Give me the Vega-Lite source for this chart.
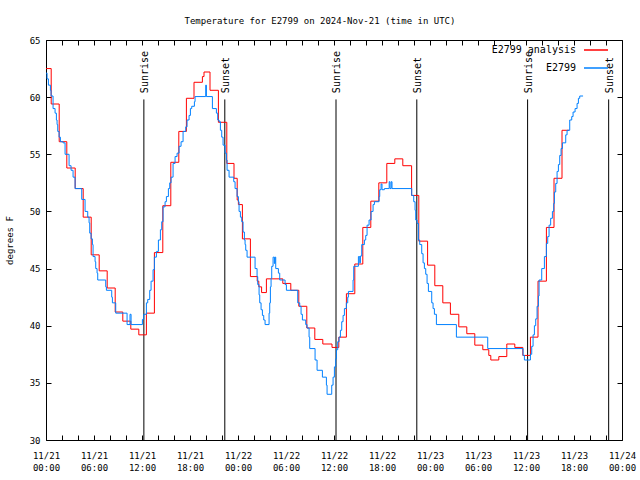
{
  "$schema": "https://vega.github.io/schema/vega-lite/v6.json",
  "width": 576,
  "height": 400,
  "autosize": {"type": "none"},
  "padding": {"left": 46, "top": 40, "right": 18, "bottom": 40},
  "background": "white",
  "title": {"text": "Temperature for E2799 on 2024-Nov-21 (time in UTC)", "font": "DejaVu Sans Mono", "fontSize": 9, "fontWeight": "normal", "color": "black", "offset": 10, "anchor": "middle", "dx": -14},
  "config": {
    "view": {"stroke": "black", "strokeWidth": 1},
    "axis": {"grid": false, "domain": false, "labelFont": "DejaVu Sans Mono", "labelFontSize": 9, "labelColor": "black", "titleFont": "DejaVu Sans Mono", "titleFontSize": 9, "titleFontWeight": "normal", "titleColor": "black", "tickColor": "black", "tickSize": -5, "labelOverlap": false, "labelFlush": false},
    "legend": {"labelFont": "DejaVu Sans Mono", "labelFontSize": 10, "labelColor": "black"}
  },
  "datasets": {
    "ana": [
      {"t": "2024-11-21T00:00:00Z", "v": 62.5}, {"t": "2024-11-21T00:39:00Z", "v": 59.4}, {"t": "2024-11-21T01:39:00Z", "v": 56.1}, {"t": "2024-11-21T02:36:00Z", "v": 53.8}, {"t": "2024-11-21T03:39:00Z", "v": 52.0}, {"t": "2024-11-21T04:39:00Z", "v": 49.5}, {"t": "2024-11-21T05:39:00Z", "v": 46.2}, {"t": "2024-11-21T06:39:00Z", "v": 44.8}, {"t": "2024-11-21T07:39:00Z", "v": 43.3}, {"t": "2024-11-21T08:39:00Z", "v": 41.2}, {"t": "2024-11-21T09:36:00Z", "v": 40.4}, {"t": "2024-11-21T10:36:00Z", "v": 39.7}, {"t": "2024-11-21T11:36:00Z", "v": 39.2}, {"t": "2024-11-21T12:33:00Z", "v": 41.1}, {"t": "2024-11-21T13:33:00Z", "v": 46.4}, {"t": "2024-11-21T14:36:00Z", "v": 50.5}, {"t": "2024-11-21T15:36:00Z", "v": 54.3}, {"t": "2024-11-21T16:36:00Z", "v": 57.0}, {"t": "2024-11-21T17:33:00Z", "v": 59.9}, {"t": "2024-11-21T18:30:00Z", "v": 61.3}, {"t": "2024-11-21T19:33:00Z", "v": 61.8}, {"t": "2024-11-21T19:45:00Z", "v": 62.2}, {"t": "2024-11-21T20:30:00Z", "v": 60.6}, {"t": "2024-11-21T21:33:00Z", "v": 57.8}, {"t": "2024-11-21T22:36:00Z", "v": 54.2}, {"t": "2024-11-21T23:30:00Z", "v": 52.9}, {"t": "2024-11-21T23:54:00Z", "v": 51.0},
      {"t": "2024-11-22T00:03:00Z", "v": 50.6}, {"t": "2024-11-22T00:33:00Z", "v": 47.6}, {"t": "2024-11-22T01:33:00Z", "v": 44.3}, {"t": "2024-11-22T02:24:00Z", "v": 43.9}, {"t": "2024-11-22T02:36:00Z", "v": 43.4}, {"t": "2024-11-22T02:57:00Z", "v": 42.9}, {"t": "2024-11-22T03:33:00Z", "v": 44.1}, {"t": "2024-11-22T05:36:00Z", "v": 43.7}, {"t": "2024-11-22T06:36:00Z", "v": 43.1}, {"t": "2024-11-22T07:36:00Z", "v": 41.7}, {"t": "2024-11-22T08:36:00Z", "v": 39.8}, {"t": "2024-11-22T09:36:00Z", "v": 38.8}, {"t": "2024-11-22T10:36:00Z", "v": 38.4}, {"t": "2024-11-22T11:45:00Z", "v": 38.1}, {"t": "2024-11-22T12:36:00Z", "v": 39.0}, {"t": "2024-11-22T13:33:00Z", "v": 42.8}, {"t": "2024-11-22T14:36:00Z", "v": 45.4}, {"t": "2024-11-22T15:36:00Z", "v": 48.6}, {"t": "2024-11-22T16:36:00Z", "v": 50.9}, {"t": "2024-11-22T17:36:00Z", "v": 52.5}, {"t": "2024-11-22T18:36:00Z", "v": 54.2}, {"t": "2024-11-22T19:36:00Z", "v": 54.6}, {"t": "2024-11-22T20:36:00Z", "v": 54.0}, {"t": "2024-11-22T21:42:00Z", "v": 51.4}, {"t": "2024-11-22T22:36:00Z", "v": 47.4}, {"t": "2024-11-22T23:42:00Z", "v": 45.3},
      {"t": "2024-11-23T00:36:00Z", "v": 43.5}, {"t": "2024-11-23T01:36:00Z", "v": 42.0}, {"t": "2024-11-23T02:33:00Z", "v": 41.0}, {"t": "2024-11-23T03:36:00Z", "v": 39.9}, {"t": "2024-11-23T04:36:00Z", "v": 39.3}, {"t": "2024-11-23T05:36:00Z", "v": 38.3}, {"t": "2024-11-23T06:36:00Z", "v": 37.9}, {"t": "2024-11-23T07:21:00Z", "v": 37.4}, {"t": "2024-11-23T07:36:00Z", "v": 37.0}, {"t": "2024-11-23T08:36:00Z", "v": 37.3}, {"t": "2024-11-23T09:36:00Z", "v": 38.4}, {"t": "2024-11-23T10:36:00Z", "v": 38.1}, {"t": "2024-11-23T11:36:00Z", "v": 37.4}, {"t": "2024-11-23T12:33:00Z", "v": 39.0}, {"t": "2024-11-23T13:30:00Z", "v": 43.9}, {"t": "2024-11-23T14:33:00Z", "v": 48.6}, {"t": "2024-11-23T15:30:00Z", "v": 52.9}, {"t": "2024-11-23T16:30:00Z", "v": 57.1}, {"t": "2024-11-23T17:24:00Z", "v": 57.1}
    ],
    "obs": [
      {"t": "2024-11-21T00:00:00Z", "v": 62.1}, {"t": "2024-11-21T00:08:00Z", "v": 61.6}, {"t": "2024-11-21T00:18:00Z", "v": 61.05}, {"t": "2024-11-21T00:33:00Z", "v": 60.6}, {"t": "2024-11-21T00:38:00Z", "v": 60.1}, {"t": "2024-11-21T00:53:00Z", "v": 59.0}, {"t": "2024-11-21T01:08:00Z", "v": 58.6}, {"t": "2024-11-21T01:18:00Z", "v": 58.0}, {"t": "2024-11-21T01:23:00Z", "v": 57.6}, {"t": "2024-11-21T01:28:00Z", "v": 57.0}, {"t": "2024-11-21T01:38:00Z", "v": 56.5}, {"t": "2024-11-21T01:48:00Z", "v": 56.1}, {"t": "2024-11-21T02:08:00Z", "v": 56.0}, {"t": "2024-11-21T02:23:00Z", "v": 55.0}, {"t": "2024-11-21T02:53:00Z", "v": 54.0}, {"t": "2024-11-21T03:08:00Z", "v": 53.6}, {"t": "2024-11-21T03:23:00Z", "v": 53.0}, {"t": "2024-11-21T03:38:00Z", "v": 52.0}, {"t": "2024-11-21T04:28:00Z", "v": 51.05}, {"t": "2024-11-21T04:53:00Z", "v": 50.0}, {"t": "2024-11-21T05:13:00Z", "v": 49.5}, {"t": "2024-11-21T05:23:00Z", "v": 49.0}, {"t": "2024-11-21T05:28:00Z", "v": 48.1}, {"t": "2024-11-21T05:38:00Z", "v": 47.6}, {"t": "2024-11-21T05:48:00Z", "v": 47.1}, {"t": "2024-11-21T05:53:00Z", "v": 46.05}, {"t": "2024-11-21T06:08:00Z", "v": 45.6}, {"t": "2024-11-21T06:13:00Z", "v": 45.0}, {"t": "2024-11-21T06:23:00Z", "v": 44.6}, {"t": "2024-11-21T06:28:00Z", "v": 44.0}, {"t": "2024-11-21T07:28:00Z", "v": 43.4}, {"t": "2024-11-21T07:33:00Z", "v": 43.1}, {"t": "2024-11-21T08:13:00Z", "v": 42.5}, {"t": "2024-11-21T08:18:00Z", "v": 42.0}, {"t": "2024-11-21T08:43:00Z", "v": 41.1}, {"t": "2024-11-21T10:08:00Z", "v": 40.1}, {"t": "2024-11-21T10:30:00Z", "v": 41.0}, {"t": "2024-11-21T10:38:00Z", "v": 40.1}, {"t": "2024-11-21T12:03:00Z", "v": 40.55}, {"t": "2024-11-21T12:13:00Z", "v": 41.0}, {"t": "2024-11-21T12:33:00Z", "v": 42.0}, {"t": "2024-11-21T12:43:00Z", "v": 42.3}, {"t": "2024-11-21T12:58:00Z", "v": 43.1}, {"t": "2024-11-21T13:08:00Z", "v": 43.9}, {"t": "2024-11-21T13:23:00Z", "v": 44.9}, {"t": "2024-11-21T13:33:00Z", "v": 46.0}, {"t": "2024-11-21T13:48:00Z", "v": 46.5}, {"t": "2024-11-21T14:03:00Z", "v": 47.5}, {"t": "2024-11-21T14:18:00Z", "v": 48.4}, {"t": "2024-11-21T14:28:00Z", "v": 49.1}, {"t": "2024-11-21T14:38:00Z", "v": 50.4}, {"t": "2024-11-21T14:53:00Z", "v": 50.85}, {"t": "2024-11-21T15:03:00Z", "v": 51.3}, {"t": "2024-11-21T15:18:00Z", "v": 52.0}, {"t": "2024-11-21T15:28:00Z", "v": 52.5}, {"t": "2024-11-21T15:38:00Z", "v": 53.0}, {"t": "2024-11-21T15:53:00Z", "v": 54.2}, {"t": "2024-11-21T16:08:00Z", "v": 54.8}, {"t": "2024-11-21T16:23:00Z", "v": 55.1}, {"t": "2024-11-21T16:38:00Z", "v": 55.7}, {"t": "2024-11-21T16:53:00Z", "v": 56.1}, {"t": "2024-11-21T17:08:00Z", "v": 57.0}, {"t": "2024-11-21T17:28:00Z", "v": 57.4}, {"t": "2024-11-21T17:38:00Z", "v": 58.0}, {"t": "2024-11-21T17:53:00Z", "v": 58.4}, {"t": "2024-11-21T18:03:00Z", "v": 59.0}, {"t": "2024-11-21T18:13:00Z", "v": 59.2}, {"t": "2024-11-21T18:33:00Z", "v": 59.6}, {"t": "2024-11-21T18:38:00Z", "v": 60.05}, {"t": "2024-11-21T19:58:00Z", "v": 61.05}, {"t": "2024-11-21T20:03:00Z", "v": 60.05}, {"t": "2024-11-21T20:48:00Z", "v": 59.0}, {"t": "2024-11-21T21:18:00Z", "v": 58.6}, {"t": "2024-11-21T21:28:00Z", "v": 58.0}, {"t": "2024-11-21T21:38:00Z", "v": 57.85}, {"t": "2024-11-21T21:48:00Z", "v": 57.1}, {"t": "2024-11-21T21:58:00Z", "v": 56.5}, {"t": "2024-11-21T22:08:00Z", "v": 55.8}, {"t": "2024-11-21T22:23:00Z", "v": 55.1}, {"t": "2024-11-21T22:33:00Z", "v": 54.5}, {"t": "2024-11-21T22:38:00Z", "v": 53.6}, {"t": "2024-11-21T22:53:00Z", "v": 53.0}, {"t": "2024-11-21T23:28:00Z", "v": 52.6}, {"t": "2024-11-21T23:38:00Z", "v": 52.0}, {"t": "2024-11-21T23:53:00Z", "v": 51.3},
      {"t": "2024-11-22T00:03:00Z", "v": 50.85}, {"t": "2024-11-22T00:08:00Z", "v": 50.0}, {"t": "2024-11-22T00:18:00Z", "v": 49.5}, {"t": "2024-11-22T00:28:00Z", "v": 49.1}, {"t": "2024-11-22T00:38:00Z", "v": 48.2}, {"t": "2024-11-22T00:48:00Z", "v": 47.5}, {"t": "2024-11-22T00:53:00Z", "v": 47.1}, {"t": "2024-11-22T00:58:00Z", "v": 46.6}, {"t": "2024-11-22T01:08:00Z", "v": 46.0}, {"t": "2024-11-22T02:08:00Z", "v": 45.0}, {"t": "2024-11-22T02:23:00Z", "v": 44.3}, {"t": "2024-11-22T02:28:00Z", "v": 43.6}, {"t": "2024-11-22T02:38:00Z", "v": 42.7}, {"t": "2024-11-22T02:43:00Z", "v": 42.0}, {"t": "2024-11-22T02:53:00Z", "v": 41.4}, {"t": "2024-11-22T03:03:00Z", "v": 40.9}, {"t": "2024-11-22T03:13:00Z", "v": 40.5}, {"t": "2024-11-22T03:23:00Z", "v": 40.1}, {"t": "2024-11-22T03:53:00Z", "v": 41.1}, {"t": "2024-11-22T03:58:00Z", "v": 42.0}, {"t": "2024-11-22T04:03:00Z", "v": 43.4}, {"t": "2024-11-22T04:08:00Z", "v": 44.15}, {"t": "2024-11-22T04:13:00Z", "v": 45.2}, {"t": "2024-11-22T04:23:00Z", "v": 46.0}, {"t": "2024-11-22T04:33:00Z", "v": 45.45}, {"t": "2024-11-22T04:38:00Z", "v": 46.0}, {"t": "2024-11-22T04:43:00Z", "v": 45.0}, {"t": "2024-11-22T05:03:00Z", "v": 44.6}, {"t": "2024-11-22T05:13:00Z", "v": 44.0}, {"t": "2024-11-22T05:53:00Z", "v": 43.6}, {"t": "2024-11-22T06:03:00Z", "v": 43.1}, {"t": "2024-11-22T07:28:00Z", "v": 42.0}, {"t": "2024-11-22T07:43:00Z", "v": 41.7}, {"t": "2024-11-22T07:53:00Z", "v": 41.0}, {"t": "2024-11-22T08:03:00Z", "v": 40.5}, {"t": "2024-11-22T08:28:00Z", "v": 40.1}, {"t": "2024-11-22T08:38:00Z", "v": 39.8}, {"t": "2024-11-22T08:53:00Z", "v": 39.0}, {"t": "2024-11-22T08:58:00Z", "v": 38.0}, {"t": "2024-11-22T09:38:00Z", "v": 37.0}, {"t": "2024-11-22T09:53:00Z", "v": 36.1}, {"t": "2024-11-22T10:33:00Z", "v": 35.5}, {"t": "2024-11-22T11:03:00Z", "v": 34.8}, {"t": "2024-11-22T11:08:00Z", "v": 34.0}, {"t": "2024-11-22T11:43:00Z", "v": 34.8}, {"t": "2024-11-22T11:53:00Z", "v": 35.5}, {"t": "2024-11-22T12:03:00Z", "v": 36.4}, {"t": "2024-11-22T12:13:00Z", "v": 37.1}, {"t": "2024-11-22T12:18:00Z", "v": 37.9}, {"t": "2024-11-22T12:28:00Z", "v": 38.6}, {"t": "2024-11-22T12:38:00Z", "v": 39.0}, {"t": "2024-11-22T12:48:00Z", "v": 39.6}, {"t": "2024-11-22T12:58:00Z", "v": 40.35}, {"t": "2024-11-22T13:08:00Z", "v": 40.9}, {"t": "2024-11-22T13:18:00Z", "v": 41.5}, {"t": "2024-11-22T13:33:00Z", "v": 42.0}, {"t": "2024-11-22T13:43:00Z", "v": 42.5}, {"t": "2024-11-22T13:48:00Z", "v": 43.0}, {"t": "2024-11-22T14:23:00Z", "v": 44.0}, {"t": "2024-11-22T14:28:00Z", "v": 45.2}, {"t": "2024-11-22T15:03:00Z", "v": 46.05}, {"t": "2024-11-22T15:13:00Z", "v": 45.5}, {"t": "2024-11-22T15:18:00Z", "v": 46.1}, {"t": "2024-11-22T15:28:00Z", "v": 47.1}, {"t": "2024-11-22T15:48:00Z", "v": 47.5}, {"t": "2024-11-22T15:58:00Z", "v": 47.9}, {"t": "2024-11-22T16:08:00Z", "v": 48.8}, {"t": "2024-11-22T16:23:00Z", "v": 49.25}, {"t": "2024-11-22T16:38:00Z", "v": 50.0}, {"t": "2024-11-22T16:53:00Z", "v": 50.6}, {"t": "2024-11-22T17:03:00Z", "v": 50.85}, {"t": "2024-11-22T17:38:00Z", "v": 51.3}, {"t": "2024-11-22T17:43:00Z", "v": 51.9}, {"t": "2024-11-22T17:53:00Z", "v": 52.4}, {"t": "2024-11-22T18:00:00Z", "v": 51.9}, {"t": "2024-11-22T18:18:00Z", "v": 52.0}, {"t": "2024-11-22T18:54:00Z", "v": 52.6}, {"t": "2024-11-22T19:00:00Z", "v": 52.0}, {"t": "2024-11-22T19:09:00Z", "v": 52.6}, {"t": "2024-11-22T19:15:00Z", "v": 52.0}, {"t": "2024-11-22T21:43:00Z", "v": 51.4}, {"t": "2024-11-22T21:58:00Z", "v": 50.85}, {"t": "2024-11-22T22:08:00Z", "v": 50.1}, {"t": "2024-11-22T22:13:00Z", "v": 49.25}, {"t": "2024-11-22T22:23:00Z", "v": 48.95}, {"t": "2024-11-22T22:33:00Z", "v": 47.5}, {"t": "2024-11-22T22:43:00Z", "v": 47.1}, {"t": "2024-11-22T22:58:00Z", "v": 46.3}, {"t": "2024-11-22T23:08:00Z", "v": 45.5}, {"t": "2024-11-22T23:18:00Z", "v": 45.0}, {"t": "2024-11-22T23:28:00Z", "v": 44.5}, {"t": "2024-11-22T23:38:00Z", "v": 43.7}, {"t": "2024-11-22T23:48:00Z", "v": 43.0},
      {"t": "2024-11-23T00:13:00Z", "v": 42.0}, {"t": "2024-11-23T00:23:00Z", "v": 41.5}, {"t": "2024-11-23T00:33:00Z", "v": 41.0}, {"t": "2024-11-23T00:48:00Z", "v": 40.1}, {"t": "2024-11-23T03:18:00Z", "v": 39.0}, {"t": "2024-11-23T07:13:00Z", "v": 38.0}, {"t": "2024-11-23T11:38:00Z", "v": 37.4}, {"t": "2024-11-23T11:48:00Z", "v": 37.0}, {"t": "2024-11-23T12:33:00Z", "v": 37.5}, {"t": "2024-11-23T12:43:00Z", "v": 38.2}, {"t": "2024-11-23T12:53:00Z", "v": 39.2}, {"t": "2024-11-23T13:03:00Z", "v": 40.0}, {"t": "2024-11-23T13:13:00Z", "v": 40.6}, {"t": "2024-11-23T13:23:00Z", "v": 41.7}, {"t": "2024-11-23T13:33:00Z", "v": 42.6}, {"t": "2024-11-23T13:38:00Z", "v": 44.0}, {"t": "2024-11-23T13:58:00Z", "v": 45.0}, {"t": "2024-11-23T14:18:00Z", "v": 46.05}, {"t": "2024-11-23T14:33:00Z", "v": 47.2}, {"t": "2024-11-23T14:43:00Z", "v": 47.8}, {"t": "2024-11-23T14:53:00Z", "v": 48.8}, {"t": "2024-11-23T15:05:00Z", "v": 49.4}, {"t": "2024-11-23T15:18:00Z", "v": 50.0}, {"t": "2024-11-23T15:28:00Z", "v": 50.7}, {"t": "2024-11-23T15:33:00Z", "v": 51.7}, {"t": "2024-11-23T15:43:00Z", "v": 52.45}, {"t": "2024-11-23T15:53:00Z", "v": 53.5}, {"t": "2024-11-23T16:03:00Z", "v": 54.1}, {"t": "2024-11-23T16:13:00Z", "v": 54.9}, {"t": "2024-11-23T16:23:00Z", "v": 55.5}, {"t": "2024-11-23T16:33:00Z", "v": 56.0}, {"t": "2024-11-23T16:58:00Z", "v": 56.7}, {"t": "2024-11-23T17:08:00Z", "v": 57.1}, {"t": "2024-11-23T17:28:00Z", "v": 58.0}, {"t": "2024-11-23T17:43:00Z", "v": 58.3}, {"t": "2024-11-23T17:53:00Z", "v": 58.7}, {"t": "2024-11-23T18:08:00Z", "v": 59.0}, {"t": "2024-11-23T18:23:00Z", "v": 59.45}, {"t": "2024-11-23T18:33:00Z", "v": 59.9}, {"t": "2024-11-23T18:43:00Z", "v": 60.1}, {"t": "2024-11-23T19:08:00Z", "v": 60.1}
    ],
    "sun": [
      {"t": "2024-11-21T12:14:00Z", "label": "Sunrise"}, {"t": "2024-11-21T22:21:00Z", "label": "Sunset"},
      {"t": "2024-11-22T12:15:00Z", "label": "Sunrise"}, {"t": "2024-11-22T22:21:00Z", "label": "Sunset"},
      {"t": "2024-11-23T12:12:00Z", "label": "Sunrise"}, {"t": "2024-11-23T22:20:00Z", "label": "Sunset"}
    ]
  },
  "layer": [
    {
      "data": {"name": "sun"},
      "mark": {"type": "rule", "color": "black", "strokeWidth": 1},
      "encoding": {
        "x": {"field": "t", "type": "temporal", "scale": {"type": "utc"}, "axis": null},
        "y": {"datum": 30, "type": "quantitative", "axis": null},
        "y2": {"datum": 59.8}
      }
    },
    {
      "data": {"name": "sun"},
      "mark": {"type": "text", "angle": 270, "align": "left", "baseline": "middle", "font": "DejaVu Sans Mono", "fontSize": 10, "color": "black", "dy": 1},
      "encoding": {
        "x": {"field": "t", "type": "temporal", "scale": {"type": "utc"}, "axis": null},
        "y": {"datum": 60.35, "type": "quantitative", "axis": null},
        "text": {"field": "label"}
      }
    },
    {
      "data": {"name": "ana"},
      "mark": {"type": "line", "interpolate": "step-after", "strokeWidth": 1},
      "encoding": {
        "x": {"field": "t", "type": "temporal", "scale": {"type": "utc", "domain": [1732147200000, 1732406400000]},
          "axis": {"orient": "bottom", "title": null, "values": [1732147200000, 1732154400000, 1732161600000, 1732168800000, 1732176000000, 1732183200000, 1732190400000, 1732197600000, 1732204800000, 1732212000000, 1732219200000, 1732226400000, 1732233600000, 1732240800000, 1732248000000, 1732255200000, 1732262400000, 1732269600000, 1732276800000, 1732284000000, 1732291200000, 1732298400000, 1732305600000, 1732312800000, 1732320000000, 1732327200000, 1732334400000, 1732341600000, 1732348800000, 1732356000000, 1732363200000, 1732370400000, 1732377600000, 1732384800000, 1732392000000, 1732399200000, 1732406400000], "labelExpr": "utchours(datum.value) % 6 == 0 ? [utcFormat(datum.value, '%m/%d'), utcFormat(datum.value, '%H:%M')] : ''", "labelPadding": 16, "labelLineHeight": 12, "labelBaseline": "top"}},
        "y": {"field": "v", "type": "quantitative", "scale": {"domain": [30, 65], "nice": false, "zero": false},
          "axis": {"orient": "left", "title": "degrees F", "values": [30, 35, 40, 45, 50, 55, 60, 65], "labelPadding": 11, "titlePadding": 15}},
        "color": {"datum": "E2799 analysis", "type": "nominal", "scale": {"domain": ["E2799 analysis", "E2799"], "range": ["#ff0000", "#0080ff"]},
          "legend": {"title": null, "orient": "none", "legendX": 537, "legendY": -3, "padding": 0, "symbolType": "stroke", "symbolSize": 576, "symbolStrokeWidth": 1.5, "labelAlign": "right", "labelOffset": -33, "rowPadding": -13}}
      }
    },
    {
      "data": {"name": "obs"},
      "mark": {"type": "line", "interpolate": "step-after", "strokeWidth": 1},
      "encoding": {
        "x": {"field": "t", "type": "temporal", "scale": {"type": "utc"}, "axis": {"orient": "top", "title": null, "labels": false, "values": [1732147200000, 1732154400000, 1732161600000, 1732168800000, 1732176000000, 1732183200000, 1732190400000, 1732197600000, 1732204800000, 1732212000000, 1732219200000, 1732226400000, 1732233600000, 1732240800000, 1732248000000, 1732255200000, 1732262400000, 1732269600000, 1732276800000, 1732284000000, 1732291200000, 1732298400000, 1732305600000, 1732312800000, 1732320000000, 1732327200000, 1732334400000, 1732341600000, 1732348800000, 1732356000000, 1732363200000, 1732370400000, 1732377600000, 1732384800000, 1732392000000, 1732399200000, 1732406400000]}},
        "y": {"field": "v", "type": "quantitative", "axis": {"orient": "right", "title": null, "labels": false, "values": [30, 35, 40, 45, 50, 55, 60, 65]}},
        "color": {"datum": "E2799", "type": "nominal"}
      }
    }
  ],
  "resolve": {"axis": {"x": "independent", "y": "independent"}}
}
